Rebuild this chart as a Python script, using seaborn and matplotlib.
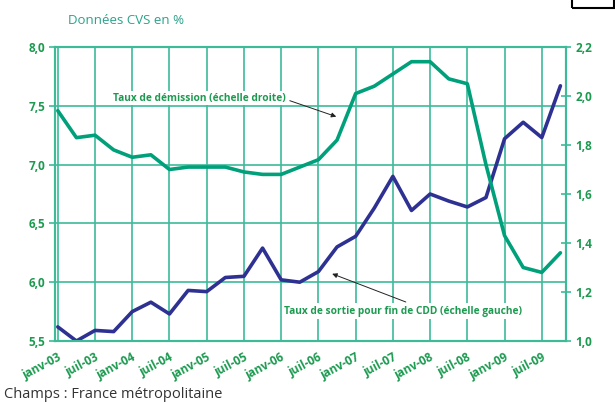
import numpy as np
import pandas as pd
import matplotlib
matplotlib.use("Agg")
import matplotlib.pyplot as plt
import seaborn as sns
from matplotlib.ticker import FuncFormatter, MultipleLocator
from matplotlib.patches import Rectangle

# --- data (quarterly, janv-03 .. oct-09) ---
quarters = list(range(28))
cdd_exit = [5.62, 5.50, 5.59, 5.58, 5.75, 5.83, 5.73, 5.93, 5.92, 6.04,
            6.05, 6.29, 6.02, 6.00, 6.09, 6.30, 6.39, 6.63, 6.90, 6.61,
            6.75, 6.69, 6.64, 6.72, 7.22, 7.36, 7.23, 7.67]
resignation = [1.94, 1.83, 1.84, 1.78, 1.75, 1.76, 1.70, 1.71, 1.71, 1.71,
               1.69, 1.68, 1.68, 1.71, 1.74, 1.82, 2.01, 2.04, 2.09, 2.14,
               2.14, 2.07, 2.05, 1.72, 1.43, 1.30, 1.28, 1.36]
tick_labels = ["janv-03", "juil-03", "janv-04", "juil-04", "janv-05", "juil-05",
               "janv-06", "juil-06", "janv-07", "juil-07", "janv-08", "juil-08",
               "janv-09", "juil-09"]

df = pd.DataFrame({"q": quarters, "cdd": cdd_exit, "dem": resignation})

GREEN = "#00A07A"
GRID = "#3DBB99"
LABEL = "#1C9A50"
BLUE = "#2E3192"

sns.set_style("white")
plt.rcParams["font.family"] = ["Open Sans", "DejaVu Sans"]

fig = plt.figure(figsize=(6.15, 4.03), dpi=100)
ax = fig.add_axes([55 / 615, 1 - 341 / 403, (566 - 55) / 615, (341 - 47) / 403])
ax2 = ax.twinx()

sns.lineplot(data=df, x="q", y="cdd", ax=ax, color=BLUE, linewidth=2.6, zorder=3)
sns.lineplot(data=df, x="q", y="dem", ax=ax2, color=GREEN, linewidth=2.6, zorder=3)

ax.set_xlim(-0.15, 27.3)
ax.set_ylim(5.5, 8.0)
ax2.set_ylim(1.0, 2.2)

fmt1 = FuncFormatter(lambda v, p: f"{v:.1f}".replace(".", ","))
ax.yaxis.set_major_locator(MultipleLocator(0.5))
ax.yaxis.set_major_formatter(fmt1)
ax2.yaxis.set_major_locator(MultipleLocator(0.2))
ax2.yaxis.set_major_formatter(fmt1)

ax.set_xticks(quarters[::2])
ax.set_xticklabels(tick_labels, rotation=28, ha="right", rotation_mode="anchor")

ax.grid(True, color=GRID, linewidth=1.2)
ax.set_axisbelow(True)
ax2.grid(False)

for a in (ax, ax2):
    a.set_xlabel("")
    a.set_ylabel("")
    for s in a.spines.values():
        s.set_color(GRID)
        s.set_linewidth(1.5)

ax.tick_params(axis="both", colors=GRID, labelcolor=LABEL, length=4, width=1.2)
ax.tick_params(axis="y", labelsize=8.5, pad=3)
ax.tick_params(axis="x", labelsize=8.5, pad=3)
ax2.tick_params(axis="y", colors=GRID, labelcolor=LABEL, direction="inout",
                length=7, width=1.2, labelsize=8.5, pad=3)
for lab in ax.get_xticklabels() + ax.get_yticklabels() + ax2.get_yticklabels():
    lab.set_fontweight("bold")

# annotations
ax.annotate("Taux de démission (échelle droite)", xy=(15.1, 7.40), xytext=(7.6, 7.565),
            ha="center", va="center", fontsize=7.3, fontweight="bold", color=LABEL,
            bbox=dict(boxstyle="square,pad=0.15", fc="white", ec="none"),
            arrowprops=dict(arrowstyle="-|>", color="#222222", lw=0.7,
                            mutation_scale=7, relpos=(1.0, 0.4)),
            zorder=4)
ax.annotate("Taux de sortie pour fin de CDD (échelle gauche)", xy=(14.6, 6.08),
            xytext=(18.55, 5.755),
            ha="center", va="center", fontsize=7.3, fontweight="bold", color=LABEL,
            bbox=dict(boxstyle="square,pad=0.25", fc="white", ec="none"),
            arrowprops=dict(arrowstyle="-|>", color="#222222", lw=0.7,
                            mutation_scale=7, relpos=(0.55, 1.0)),
            zorder=4)

fig.text(68 / 615, 1 - 21 / 403, "Données CVS en %", color="#2AA38A",
         fontsize=9.5, ha="left", va="center")
fig.text(4 / 615, 1 - 402 / 403, "Champs : France métropolitaine", color="#333333",
         fontsize=10.5, ha="left", va="bottom")
fig.patches.append(Rectangle((572 / 615, 1 - 8 / 403), 42 / 615, 12 / 403,
                             transform=fig.transFigure, fill=False,
                             ec="black", lw=1.5))

fig.savefig("out.png", dpi=100)
